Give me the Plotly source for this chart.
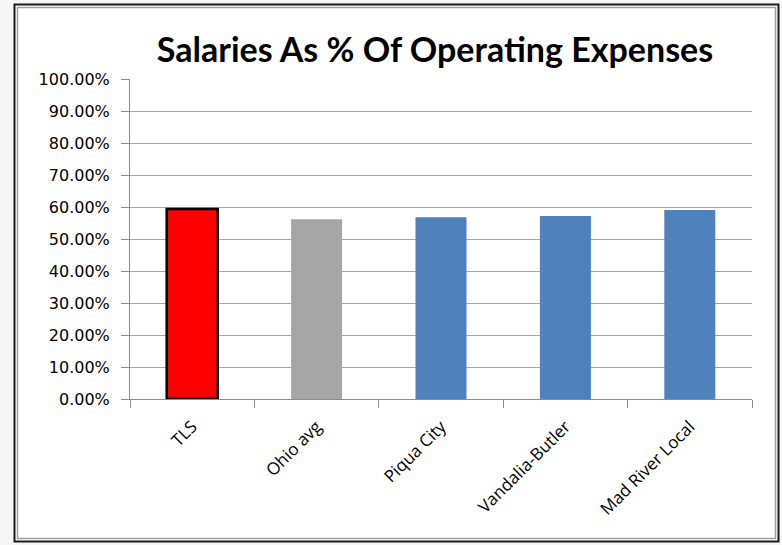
import plotly.graph_objects as go

categories = ["TLS", "Ohio avg", "Piqua City", "Vandalia-Butler", "Mad River Local"]
values = [0.594, 0.562, 0.568, 0.572, 0.591]
bar_colors = ["#ff0000", "#a6a6a6", "#4f81bd", "#4f81bd", "#4f81bd"]
outline_colors = ["#000000", "#a6a6a6", "#4f81bd", "#4f81bd", "#4f81bd"]
outline_widths = [2.5, 0, 0, 0, 0]
y_ticks = [i / 10 for i in range(11)]

L, R, T, B = 130, 30, 79, 146
W, H = 782, 545
pw, ph = W - L - R, H - T - B

def px(x):
    return (x - L) / pw

def py(y):
    return (H - B - y) / ph

fig = go.Figure(go.Bar(
    x=categories, y=values,
    marker=dict(color=bar_colors, line=dict(color=outline_colors, width=outline_widths)),
    width=0.41,
    hoverinfo="skip",
))

fig.update_layout(
    width=W, height=H,
    margin=dict(l=L, r=R, t=T, b=B, autoexpand=False),
    paper_bgcolor="#f6f6f6",
    plot_bgcolor="rgba(0,0,0,0)",
    showlegend=False,
    font=dict(family="DejaVu Sans, sans-serif", color="#000000"),
    title=dict(
        text="<b>Salaries As % Of Operating Expenses</b>",
        x=435 / W, xanchor="center",
        y=1 - 50 / H, yanchor="middle",
        font=dict(size=34, family="Lato, Open Sans, sans-serif", color="#000000"),
    ),
    xaxis=dict(
        showgrid=False,
        showline=True, linecolor="#8c8c8c", linewidth=1,
        ticks="outside", tickson="boundaries", ticklen=8, tickcolor="#8c8c8c",
        tickangle=-45, ticklabelstandoff=10,
        tickfont=dict(size=17, family="Open Sans, sans-serif"),
        automargin=False,
    ),
    yaxis=dict(
        range=[0, 1], tickvals=y_ticks, tickformat=".2%",
        showgrid=True, gridcolor="#a6a6a6", gridwidth=1,
        showline=True, linecolor="#8c8c8c", linewidth=1,
        ticks="outside", ticklen=8, tickcolor="#8c8c8c",
        ticklabelstandoff=8,
        tickfont=dict(size=16, family="DejaVu Sans, sans-serif"),
        zeroline=False, automargin=False,
    ),
    shapes=[
        dict(type="rect", xref="paper", yref="paper", layer="below",
             x0=px(14.5), x1=px(778.5), y0=py(541.5), y1=py(4.5),
             fillcolor="#ffffff", line=dict(color="#1a1a1a", width=2)),
        dict(type="rect", xref="paper", yref="paper", layer="below",
             x0=px(17.5), x1=px(775.5), y0=py(538.5), y1=py(7.5),
             fillcolor="rgba(0,0,0,0)", line=dict(color="#a0a0a0", width=1.5)),
    ],
)

fig.write_html(
    "out.html",
    config={"displayModeBar": False},
    post_script="document.body.style.margin='0px';document.body.style.padding='0px';",
)
